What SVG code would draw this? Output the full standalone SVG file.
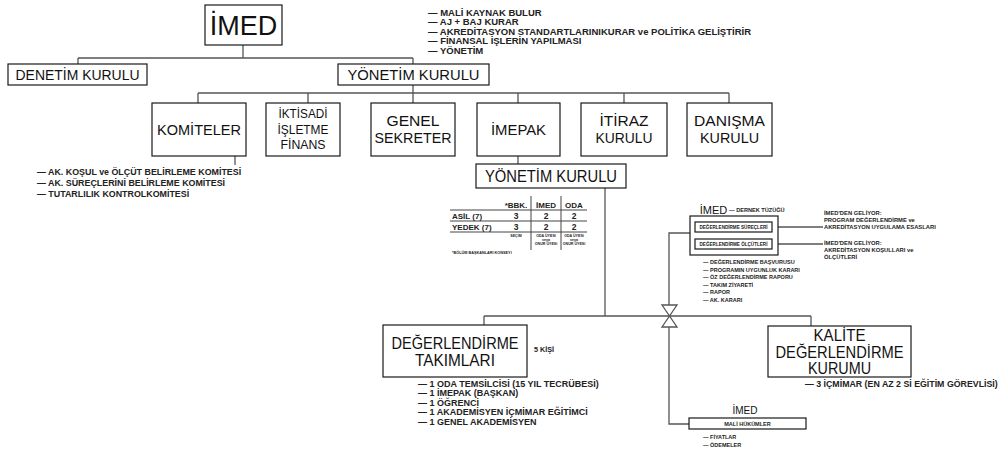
<svg xmlns="http://www.w3.org/2000/svg" width="1003" height="450" viewBox="0 0 1003 450">
<style>
.box{fill:#fff;stroke:#1a1a1a;stroke-width:1.2}
.ln{fill:none;stroke:#555;stroke-width:1.3}
.tl{fill:none;stroke:#444;stroke-width:1}
.t{font-family:"Liberation Sans",Arial,sans-serif;fill:#111;text-anchor:middle}
.s{font-family:"Liberation Sans",Arial,sans-serif;font-weight:bold;fill:#222}
.sc{font-family:"Liberation Sans",Arial,sans-serif;font-weight:bold;fill:#222;text-anchor:middle}
</style>
<rect width="1003" height="450" fill="#fff"/>
<g id="connectors" class="ln">
<path d="M243 45V58M78 58H413M78 58V64M413 58V64"/>
<path d="M413 85V103M198 93H729M198 93V103M308 93V103M518 93V103M624 93V103M729 93V103"/>
<path d="M235 156V165"/>
<path d="M518 156V164"/>
<path d="M605 188V316"/>
<path d="M484 316H811M484 316V325M811 316V326"/>
<path d="M690 233H669V305M669 327V424H689"/>
<path d="M662 305H677L662 327H677Z"/>
<path d="M772 227H823M772 244H823"/>
</g>
<g id="imed">
<rect class="box" x="205" y="5" width="77" height="40"/>
<text class="t" x="243.5" y="35" font-size="27">İMED</text>
</g>
<g id="imed-gorevler">
<text class="s" x="428" y="15.5" font-size="9.5">— MALİ KAYNAK BULUR</text>
<text class="s" x="428" y="25" font-size="9.5">— AJ + BAJ KURAR</text>
<text class="s" x="428" y="34.5" font-size="9.5">— AKREDİTASYON STANDARTLARINIKURAR ve POLİTİKA GELİŞTİRİR</text>
<text class="s" x="428" y="44" font-size="9.5">— FİNANSAL İŞLERİN YAPILMASI</text>
<text class="s" x="428" y="53.5" font-size="9.5">— YÖNETİM</text>
</g>
<g id="denetim">
<rect class="box" x="8" y="64" width="139" height="21"/>
<text class="t" x="77.5" y="80" font-size="15.5" textLength="124" lengthAdjust="spacingAndGlyphs">DENETİM KURULU</text>
</g>
<g id="yonetim">
<rect class="box" x="338" y="64" width="151" height="21"/>
<text class="t" x="413.5" y="80" font-size="15.5" textLength="132" lengthAdjust="spacingAndGlyphs">YÖNETİM KURULU</text>
</g>
<g id="komiteler">
<rect class="box" x="152" y="103" width="94" height="53"/>
<text class="t" x="199" y="135" font-size="15.5" textLength="84" lengthAdjust="spacingAndGlyphs">KOMİTELER</text>
<text class="s" x="37" y="175" font-size="8.9">— AK. KOŞUL ve ÖLÇÜT BELİRLEME KOMİTESİ</text>
<text class="s" x="37" y="186" font-size="8.9">— AK. SÜREÇLERİNİ BELİRLEME KOMİTESİ</text>
<text class="s" x="37" y="197" font-size="8.9">— TUTARLILIK KONTROLKOMİTESİ</text>
</g>
<g id="iktisadi">
<rect class="box" x="266" y="103" width="74" height="53"/>
<text class="t" x="303" y="118" font-size="13.5" textLength="49" lengthAdjust="spacingAndGlyphs">İKTİSADİ</text>
<text class="t" x="303" y="133.5" font-size="13.5" textLength="51" lengthAdjust="spacingAndGlyphs">İŞLETME</text>
<text class="t" x="303" y="149" font-size="13.5" textLength="45" lengthAdjust="spacingAndGlyphs">FİNANS</text>
</g>
<g id="genel-sekreter">
<rect class="box" x="371" y="103" width="84" height="53"/>
<text class="t" x="413" y="126" font-size="14.5" textLength="53" lengthAdjust="spacingAndGlyphs">GENEL</text>
<text class="t" x="413" y="142.5" font-size="14.5" textLength="77" lengthAdjust="spacingAndGlyphs">SEKRETER</text>
</g>
<g id="imepak">
<rect class="box" x="477" y="103" width="83" height="53"/>
<text class="t" x="518.5" y="135" font-size="15.5" textLength="55" lengthAdjust="spacingAndGlyphs">İMEPAK</text>
</g>
<g id="itiraz">
<rect class="box" x="581" y="103" width="86" height="53"/>
<text class="t" x="624" y="126" font-size="14.5" textLength="49" lengthAdjust="spacingAndGlyphs">İTİRAZ</text>
<text class="t" x="624" y="142.5" font-size="14.5" textLength="57" lengthAdjust="spacingAndGlyphs">KURULU</text>
</g>
<g id="danisma">
<rect class="box" x="687" y="103" width="85" height="53"/>
<text class="t" x="729.5" y="126" font-size="14.5" textLength="71" lengthAdjust="spacingAndGlyphs">DANIŞMA</text>
<text class="t" x="729.5" y="142.5" font-size="14.5" textLength="59" lengthAdjust="spacingAndGlyphs">KURULU</text>
</g>
<g id="imepak-yonetim">
<rect class="box" x="476" y="164" width="150" height="24"/>
<text class="t" x="551" y="182" font-size="16" textLength="132" lengthAdjust="spacingAndGlyphs">YÖNETİM KURULU</text>
</g>
<g id="tablo">
<path class="tl" d="M531 196V250M561 196V250M450 210H587M450 221H587M450 232H587"/>
<text class="sc" x="516" y="207.5" font-size="8">*BBK.</text>
<text class="sc" x="546" y="207.5" font-size="8">İMED</text>
<text class="sc" x="574" y="207.5" font-size="8">ODA</text>
<text class="s" x="452" y="218.5" font-size="8">ASİL (7)</text>
<text class="sc" x="516" y="218.5" font-size="8.5">3</text>
<text class="sc" x="546" y="218.5" font-size="8.5">2</text>
<text class="sc" x="574" y="218.5" font-size="8.5">2</text>
<text class="s" x="452" y="229.5" font-size="8">YEDEK (7)</text>
<text class="sc" x="516" y="229.5" font-size="8.5">3</text>
<text class="sc" x="546" y="229.5" font-size="8.5">2</text>
<text class="sc" x="574" y="229.5" font-size="8.5">2</text>
<text class="sc" x="516" y="237" font-size="3.6">SEÇİM</text>
<text class="sc" x="546" y="236.5" font-size="3.6">ODA ÜYESİ</text>
<text class="sc" x="546" y="240.8" font-size="3.6">veya</text>
<text class="sc" x="546" y="245.1" font-size="3.6">ONUR ÜYESİ</text>
<text class="sc" x="574" y="236.5" font-size="3.6">ODA ÜYESİ</text>
<text class="sc" x="574" y="240.8" font-size="3.6">veya</text>
<text class="sc" x="574" y="245.1" font-size="3.6">ONUR ÜYESİ</text>
<text class="s" x="452" y="254" font-size="3.8">*BÖLÜM BAŞKANLARI KONSEYİ</text>
</g>
<g id="imed-dernek">
<text class="t" x="713.5" y="214" font-size="11">İMED</text>
<text class="s" x="729" y="212" font-size="5.6">— DERNEK TÜZÜĞÜ</text>
<rect class="box" x="690" y="216" width="88" height="39"/>
<rect class="box" x="695" y="222" width="77" height="10"/>
<text class="sc" x="733.5" y="229" font-size="4.6">DEĞERLENDİRME SÜREÇLERİ</text>
<rect class="box" x="695" y="239" width="77" height="10"/>
<text class="sc" x="733.5" y="246" font-size="4.6">DEĞERLENDİRME ÖLÇÜTLERİ</text>
<text class="s" x="824" y="215" font-size="5.8">İMED'DEN GELİYOR:</text>
<text class="s" x="824" y="222" font-size="5.8">PROGRAM DEĞERLENDİRME ve</text>
<text class="s" x="824" y="229" font-size="5.8">AKREDİTASYON UYGULAMA ESASLARI</text>
<text class="s" x="824" y="245" font-size="5.8">İMED'DEN GELİYOR:</text>
<text class="s" x="824" y="252" font-size="5.8">AKREDİTASYON KOŞULLARI ve</text>
<text class="s" x="824" y="259" font-size="5.8">ÖLÇÜTLERİ</text>
<text class="s" x="703" y="264" font-size="5.5">— DEĞERLENDİRME BAŞVURUSU</text>
<text class="s" x="703" y="271.5" font-size="5.5">— PROGRAMIN UYGUNLUK KARARI</text>
<text class="s" x="703" y="279" font-size="5.5">— ÖZ DEĞERLENDİRME RAPORU</text>
<text class="s" x="703" y="286.5" font-size="5.5">— TAKIM ZİYARETİ</text>
<text class="s" x="703" y="294" font-size="5.5">— RAPOR</text>
<text class="s" x="703" y="301.5" font-size="5.5">— AK. KARARI</text>
</g>
<g id="degerlendirme-takimlari">
<rect class="box" x="383" y="325" width="144" height="52"/>
<text class="t" x="455" y="349" font-size="16.5" textLength="127" lengthAdjust="spacingAndGlyphs">DEĞERLENDİRME</text>
<text class="t" x="455" y="365.5" font-size="16.5" textLength="80" lengthAdjust="spacingAndGlyphs">TAKIMLARI</text>
<text class="s" x="534" y="352" font-size="7.2">5 KİŞİ</text>
<text class="s" x="418" y="386.5" font-size="9">— 1 ODA TEMSİLCİSİ (15 YIL TECRÜBESİ)</text>
<text class="s" x="418" y="396" font-size="9">— 1 İMEPAK (BAŞKAN)</text>
<text class="s" x="418" y="405.5" font-size="9">— 1 ÖĞRENCİ</text>
<text class="s" x="418" y="415" font-size="9">— 1 AKADEMİSYEN İÇMİMAR EĞİTİMCİ</text>
<text class="s" x="418" y="424.5" font-size="9">— 1 GENEL AKADEMİSYEN</text>
</g>
<g id="kalite">
<rect class="box" x="768" y="326" width="143" height="51"/>
<text class="t" x="839.5" y="341" font-size="16.5" textLength="52" lengthAdjust="spacingAndGlyphs">KALİTE</text>
<text class="t" x="839.5" y="357.5" font-size="16.5" textLength="128" lengthAdjust="spacingAndGlyphs">DEĞERLENDİRME</text>
<text class="t" x="839.5" y="374" font-size="16.5" textLength="63" lengthAdjust="spacingAndGlyphs">KURUMU</text>
<text class="s" x="805" y="387" font-size="8.8">— 3 İÇMİMAR (EN AZ 2 Sİ EĞİTİM GÖREVLİSİ)</text>
</g>
<g id="imed-mali">
<text class="t" x="745" y="414" font-size="10">İMED</text>
<rect class="box" x="689" y="418" width="117" height="11"/>
<text class="sc" x="747.5" y="425.8" font-size="5.5">MALİ HÜKÜMLER</text>
<text class="s" x="703" y="439" font-size="5.5">— FİYATLAR</text>
<text class="s" x="703" y="447" font-size="5.5">— ÖDEMELER</text>
</g>
</svg>
